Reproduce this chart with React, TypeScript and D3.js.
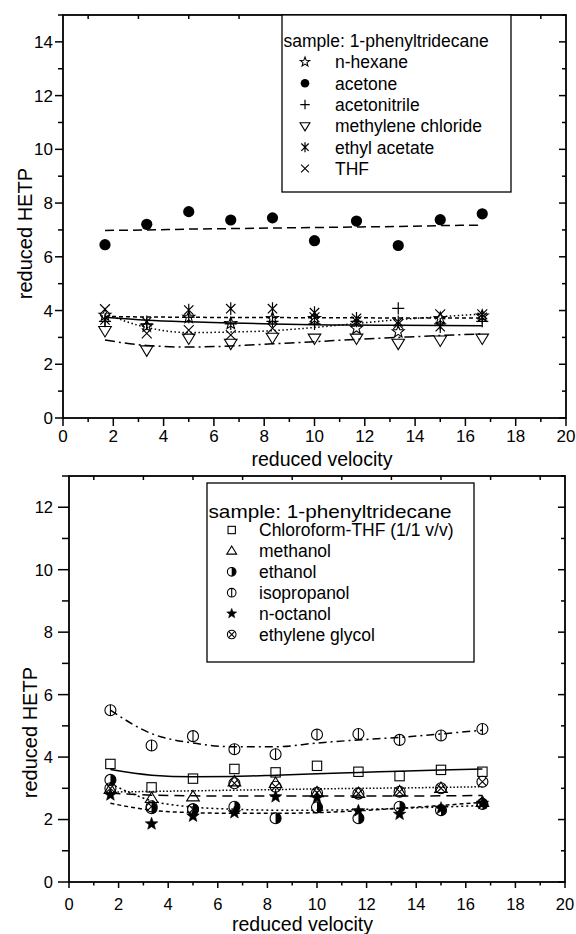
import React from "react";
import * as d3 from "d3";

// ---------- shared x values (reduced velocity) ----------
const velocity = [1.67, 3.33, 5, 6.67, 8.33, 10, 11.67, 13.33, 15, 16.67];
const xTickLabels = [0, 2, 4, 6, 8, 10, 12, 14, 16, 18, 20];

// ---------- top panel data ----------
const topTitle = "sample: 1-phenyltridecane";
const topNames = ["n-hexane", "acetone", "acetonitrile", "methylene chloride", "ethyl acetate", "THF"];
const nHexane = [3.83, 3.42, 3.75, 3.52, 3.71, 3.71, 3.34, 3.21, 3.71, 3.8];
const acetone = [6.45, 7.21, 7.68, 7.37, 7.45, 6.6, 7.33, 6.42, 7.38, 7.6];
const acetonitrile = [3.6, 3.5, 3.75, 3.5, 3.6, 3.5, 3.6, 4.08, 3.5, 3.6];
const methyleneChloride = [3.25, 2.53, 2.97, 2.78, 3.0, 2.97, 2.97, 2.78, 2.9, 2.97];
const ethylAcetate = [3.65, 3.58, 4.02, 4.07, 4.07, 3.92, 3.71, 3.58, 3.4, 3.75];
const thf = [4.05, 3.15, 3.27, 3.09, 3.34, 3.75, 3.6, 3.5, 3.86, 3.86];
// fitted curves (read at each velocity)
const acetoneFit = [6.98, 7.0, 7.03, 7.05, 7.07, 7.09, 7.11, 7.13, 7.16, 7.18];
const methyleneChlorideFit = [2.9, 2.7, 2.64, 2.68, 2.76, 2.84, 2.93, 3.0, 3.07, 3.13];
const ethylAcetateFit = [3.78, 3.76, 3.75, 3.74, 3.74, 3.73, 3.73, 3.72, 3.72, 3.72];
const thfFit = [3.88, 3.37, 3.18, 3.2, 3.25, 3.37, 3.52, 3.66, 3.77, 3.87];
const acetonitrileFit = [3.75, 3.64, 3.58, 3.54, 3.5, 3.47, 3.46, 3.45, 3.44, 3.43];
const topYTicks = [0, 2, 4, 6, 8, 10, 12, 14];

// ---------- bottom panel data ----------
const bottomNames = ["Chloroform-THF (1/1 v/v)", "methanol", "ethanol", "isopropanol", "n-octanol", "ethylene glycol"];
const chloroformTHF = [3.78, 3.03, 3.31, 3.62, 3.51, 3.72, 3.53, 3.39, 3.59, 3.53];
const methanol = [2.97, 2.68, 2.73, 3.21, 3.16, 2.86, 2.84, 2.89, 3.0, 2.55];
const ethanol = [3.27, 2.36, 2.33, 2.41, 2.04, 2.39, 2.04, 2.41, 2.3, 2.5];
const isopropanol = [5.5, 4.37, 4.67, 4.25, 4.09, 4.72, 4.74, 4.55, 4.69, 4.9];
const nOctanol = [2.79, 1.86, 2.11, 2.22, 2.73, 2.7, 2.28, 2.17, 2.36, 2.52];
const ethyleneGlycol = [3.0, 2.42, 2.33, 3.16, 3.05, 2.86, 2.83, 2.89, 3.0, 3.21];
const chloroformTHFFit = [3.6, 3.42, 3.37, 3.38, 3.42, 3.47, 3.51, 3.55, 3.59, 3.62];
const isopropanolFit = [5.5, 4.75, 4.45, 4.33, 4.33, 4.45, 4.55, 4.63, 4.74, 4.86];
const ethyleneGlycolFit = [2.88, 2.9, 2.92, 2.94, 2.96, 2.98, 3.0, 3.01, 3.03, 3.05];
const methanolFit = [2.85, 2.78, 2.76, 2.75, 2.75, 2.75, 2.75, 2.75, 2.76, 2.77];
const nOctanolFit = [2.52, 2.3, 2.22, 2.2, 2.2, 2.22, 2.28, 2.36, 2.45, 2.55];
const ethanolFit = [3.15, 2.6, 2.4, 2.33, 2.3, 2.3, 2.32, 2.36, 2.4, 2.45];
const bottomYTicks = [0, 2, 4, 6, 8, 10, 12];

const FONT = "'Liberation Sans', Arial, Helvetica, sans-serif";

function starPath(cx: number, cy: number, R: number) {
  const r = R * 0.42;
  let d = "";
  for (let i = 0; i < 10; i++) {
    const a = -Math.PI / 2 + (i * Math.PI) / 5;
    const rr = i % 2 === 0 ? R : r;
    d += (i === 0 ? "M" : "L") + (cx + rr * Math.cos(a)).toFixed(2) + "," + (cy + rr * Math.sin(a)).toFixed(2);
  }
  return d + "Z";
}

function Marker({ type, x, y, s }: { type: string; x: number; y: number; s: number }) {
  const sw = 1.1;
  switch (type) {
    case "starOpen":
      return <path d={starPath(x, y, s * 1.15)} fill="none" stroke="#000" strokeWidth={sw} />;
    case "starFilled":
      return <path d={starPath(x, y, s * 1.2)} fill="#000" stroke="#000" strokeWidth={0.6} />;
    case "circleFilled":
      return <circle cx={x} cy={y} r={s} fill="#000" />;
    case "plus":
      return <path d={`M${x - s * 1.1},${y}H${x + s * 1.1}M${x},${y - s * 1.1}V${y + s * 1.1}`} stroke="#000" strokeWidth={1.2} fill="none" />;
    case "triDown":
      return <path d={`M${x - s * 1.15},${y - s * 0.75}L${x + s * 1.15},${y - s * 0.75}L${x},${y + s * 1.15}Z`} fill="none" stroke="#000" strokeWidth={sw} />;
    case "triUp":
      return <path d={`M${x - s * 1.15},${y + s * 0.75}L${x + s * 1.15},${y + s * 0.75}L${x},${y - s * 1.15}Z`} fill="none" stroke="#000" strokeWidth={sw} />;
    case "asterisk": {
      const a = s * 1.15, b = s * 0.85;
      return <path d={`M${x},${y - a}V${y + a}M${x - b},${y - b}L${x + b},${y + b}M${x - b},${y + b}L${x + b},${y - b}`} stroke="#000" strokeWidth={1.2} fill="none" />;
    }
    case "times": {
      const b = s * 0.9;
      return <path d={`M${x - b},${y - b}L${x + b},${y + b}M${x - b},${y + b}L${x + b},${y - b}`} stroke="#000" strokeWidth={1.1} fill="none" />;
    }
    case "square":
      return <rect x={x - s * 0.85} y={y - s * 0.85} width={s * 1.7} height={s * 1.7} fill="none" stroke="#000" strokeWidth={sw} />;
    case "halfCircle":
      return (
        <g>
          <path d={`M${x},${y - s}A${s},${s} 0 0 1 ${x},${y + s}Z`} fill="#000" />
          <circle cx={x} cy={y} r={s} fill="none" stroke="#000" strokeWidth={sw} />
        </g>
      );
    case "circleBar":
      return (
        <g>
          <circle cx={x} cy={y} r={s} fill="none" stroke="#000" strokeWidth={sw} />
          <path d={`M${x},${y - s}V${y + s}`} stroke="#000" strokeWidth={sw} />
        </g>
      );
    case "circleX": {
      const b = s * 0.7071;
      return (
        <g>
          <circle cx={x} cy={y} r={s} fill="none" stroke="#000" strokeWidth={sw} />
          <path d={`M${x - b},${y - b}L${x + b},${y + b}M${x - b},${y + b}L${x + b},${y - b}`} stroke="#000" strokeWidth={sw} />
        </g>
      );
    }
    default:
      return null;
  }
}

type Series = { name: string; values: number[]; marker: string; fit?: number[]; dash?: string };

type PanelProps = {
  x0: number; x1: number; yTop: number; yBottom: number; yMax: number;
  yTicks: number[]; series: Series[];
  tickFont: number; tickLabelRight: number; xLabelBaseline: number;
  xTitleX: number; xTitleBaseline: number;
  yTitleX: number; yTitleEnd: number;
  legend: { x0: number; x1: number; y0: number; y1: number; titleY: number; titleX: number; symX: number; textX: number; firstY: number; step: number; titleLength?: number; titleFont: number };
  majorOut: number; minorOut: number; xMajorOut: number; xMinorOut: number;
};

function Panel(p: PanelProps) {
  const x = d3.scaleLinear().domain([0, 20]).range([p.x0, p.x1]);
  const y = d3.scaleLinear().domain([0, p.yMax]).range([p.yBottom, p.yTop]);
  const line = d3.line<number>().x((_, i) => x(velocity[i])).y((v) => y(v)).curve(d3.curveMonotoneX);
  const yAll = d3.range(0, p.yMax + 1);
  const xAll = d3.range(0, 21);
  const axisW = 1.8;
  return (
    <g fontFamily={FONT}>
      {p.series.filter((s) => s.fit).map((s) => (
        <path key={"f" + s.name} d={line(s.fit!) || ""} fill="none" stroke="#000" strokeWidth={1.5} strokeDasharray={s.dash} />
      ))}
      {p.series.map((s) => (
        <g key={"m" + s.name}>
          {s.values.map((v, i) => (
            <Marker key={i} type={s.marker} x={x(velocity[i])} y={y(v)} s={s.marker === "circleFilled" ? 5.6 : 5.5} />
          ))}
        </g>
      ))}
      <rect x={p.x0} y={p.yTop} width={p.x1 - p.x0} height={p.yBottom - p.yTop} fill="none" stroke="#000" strokeWidth={axisW} />
      {yAll.map((t) => (
        <line key={"yl" + t} x1={p.x0 - (t % 2 === 0 ? p.majorOut : p.minorOut)} x2={p.x0} y1={y(t)} y2={y(t)} stroke="#000" strokeWidth={1.5} />
      ))}
      {yAll.map((t) => (
        <line key={"yr" + t} x1={p.x1 - (t % 2 === 0 ? 7 : 4)} x2={p.x1} y1={y(t)} y2={y(t)} stroke="#000" strokeWidth={1.5} />
      ))}
      {xAll.map((t) => (
        <line key={"xb" + t} x1={x(t)} x2={x(t)} y1={p.yBottom} y2={p.yBottom + (t % 2 === 0 ? p.xMajorOut : p.xMinorOut)} stroke="#000" strokeWidth={1.5} />
      ))}
      {xAll.filter((t) => t % 2 === 1).map((t) => (
        <line key={"xt" + t} x1={x(t)} x2={x(t)} y1={p.yTop} y2={p.yTop + 4} stroke="#000" strokeWidth={1.5} />
      ))}
      {p.yTicks.map((t) => (
        <text key={"yt" + t} x={p.tickLabelRight} y={y(t)} dy="0.36em" textAnchor="end" fontSize={p.tickFont}>{t}</text>
      ))}
      {xTickLabels.map((t) => (
        <text key={"xtl" + t} x={x(t)} y={p.xLabelBaseline} textAnchor="middle" fontSize={p.tickFont}>{t}</text>
      ))}
      <text x={p.xTitleX} y={p.xTitleBaseline} textAnchor="middle" fontSize={19.5}>reduced velocity</text>
      <text transform={`translate(${p.yTitleX},${p.yTitleEnd}) rotate(-90)`} textAnchor="end" fontSize={20}>reduced HETP</text>
      <rect x={p.legend.x0} y={p.legend.y0} width={p.legend.x1 - p.legend.x0} height={p.legend.y1 - p.legend.y0} fill="#fff" stroke="#000" strokeWidth={1.3} />
      <text x={p.legend.titleX} y={p.legend.titleY} dy="0.36em" fontSize={p.legend.titleFont}
        textLength={p.legend.titleLength} lengthAdjust={p.legend.titleLength ? "spacingAndGlyphs" : undefined}>{topTitle}</text>
      {p.series.map((s, i) => {
        const ly = p.legend.firstY + i * p.legend.step;
        return (
          <g key={"lg" + s.name}>
            <Marker type={s.marker} x={p.legend.symX} y={ly} s={4.3} />
            <text x={p.legend.textX} y={ly} dy="0.36em" fontSize={17.5}>{s.name}</text>
          </g>
        );
      })}
    </g>
  );
}

const topSeries: Series[] = [
  { name: topNames[0], values: nHexane, marker: "starOpen" },
  { name: topNames[1], values: acetone, marker: "circleFilled", fit: acetoneFit, dash: "9,5" },
  { name: topNames[2], values: acetonitrile, marker: "plus", fit: acetonitrileFit },
  { name: topNames[3], values: methyleneChloride, marker: "triDown", fit: methyleneChlorideFit, dash: "10,4,2,4" },
  { name: topNames[4], values: ethylAcetate, marker: "asterisk", fit: ethylAcetateFit, dash: "4,3" },
  { name: topNames[5], values: thf, marker: "times", fit: thfFit, dash: "1.5,2.5" },
];

const bottomSeries: Series[] = [
  { name: bottomNames[0], values: chloroformTHF, marker: "square", fit: chloroformTHFFit },
  { name: bottomNames[1], values: methanol, marker: "triUp", fit: methanolFit, dash: "10,6" },
  { name: bottomNames[2], values: ethanol, marker: "halfCircle", fit: ethanolFit, dash: "2,3" },
  { name: bottomNames[3], values: isopropanol, marker: "circleBar", fit: isopropanolFit, dash: "8,4,2,4" },
  { name: bottomNames[4], values: nOctanol, marker: "starFilled", fit: nOctanolFit, dash: "4,3" },
  { name: bottomNames[5], values: ethyleneGlycol, marker: "circleX", fit: ethyleneGlycolFit, dash: "1.5,2" },
];

export default function App() {
  return (
    <svg width={576} height={934} viewBox="0 0 576 934" style={{ position: "absolute", left: 0, top: 0, background: "#fff" }}>
      <rect x={0} y={0} width={576} height={934} fill="#fff" />
      <Panel
        x0={63} x1={566} yTop={15} yBottom={418} yMax={15}
        yTicks={topYTicks} series={topSeries}
        tickFont={17} tickLabelRight={53} xLabelBaseline={442}
        xTitleX={322} xTitleBaseline={465.5}
        yTitleX={32} yTitleEnd={168}
        legend={{ x0: 282, x1: 511, y0: 15, y1: 192, titleX: 283.5, titleY: 40.5, symX: 305, textX: 335, firstY: 62, step: 21.3, titleFont: 17.5 }}
        majorOut={8} minorOut={5} xMajorOut={8} xMinorOut={4}
      />
      <Panel
        x0={69} x1={565} yTop={476} yBottom={882} yMax={13}
        yTicks={bottomYTicks} series={bottomSeries}
        tickFont={16.5} tickLabelRight={53} xLabelBaseline={910}
        xTitleX={302.5} xTitleBaseline={930.5}
        yTitleX={37} yTitleEnd={667}
        legend={{ x0: 207, x1: 474, y0: 483, y1: 662, titleX: 208.5, titleY: 510.7, symX: 231.7, textX: 259, firstY: 530, step: 20.9, titleLength: 243, titleFont: 19 }}
        majorOut={11} minorOut={7} xMajorOut={6} xMinorOut={3.5}
      />
    </svg>
  );
}
